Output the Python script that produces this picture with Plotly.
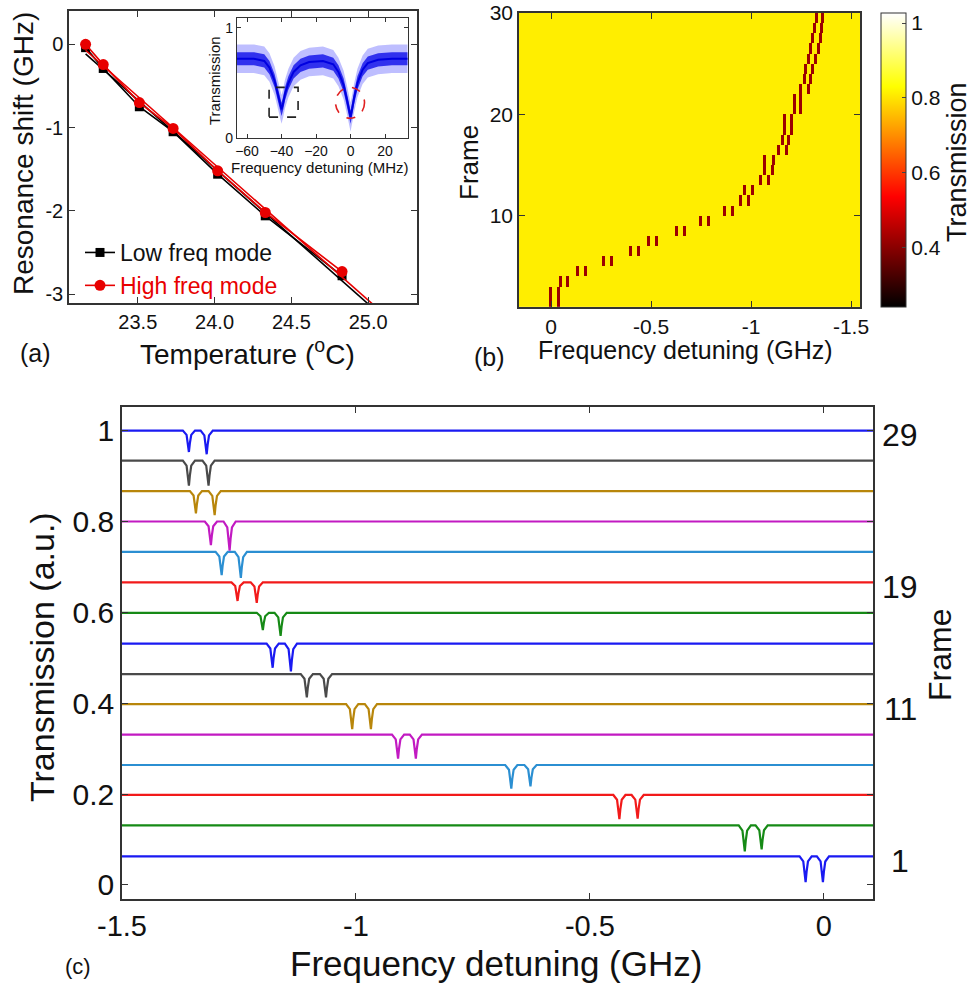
import numpy as np
import plotly.graph_objects as go

# ---------------- data: panel (a) ----------------
TEMP_C = [23.16, 23.275, 23.51, 23.73, 24.02, 24.33, 24.83]
SHIFT_LOW_GHZ = [-0.04, -0.29, -0.75, -1.05, -1.56, -2.06, -2.78]
SHIFT_HIGH_GHZ = [0.00, -0.244, -0.70, -1.01, -1.52, -2.02, -2.73]
SERIES_NAMES = ["Low freq mode", "High freq mode"]

# inset of panel (a): transmission vs detuning (MHz), centre of noisy trace
INSET_DET_MHZ = [-66, -56, -50, -47, -44, -42, -41, -40, -39, -38, -36, -33, -29, -24,
                 -16, -10, -7, -4, -2, -1, 0, 1, 2, 4, 7, 10, 16, 24, 33]
INSET_T_MID = [0.72, 0.72, 0.70, 0.64, 0.52, 0.40, 0.32, 0.26, 0.32, 0.40, 0.50, 0.60,
               0.66, 0.69, 0.70, 0.67, 0.60, 0.48, 0.34, 0.26, 0.19, 0.27, 0.36, 0.50,
               0.62, 0.68, 0.71, 0.72, 0.72]
INSET_NOISE_CORE = 0.06
INSET_NOISE_SPIKE = 0.13
INSET_BOX_MHZ = [-47.2, -30.4]
INSET_BOX_T = [0.19, 0.46]
INSET_CIRCLE_MHZ = [-8.7, 8.1]
INSET_CIRCLE_T = [0.18, 0.46]

# ---------------- data: panel (b) ----------------
HM_FRAMES = list(range(1, 31))
HM_DIP_A = [0.0, 0.0, -0.046, -0.134, -0.264, -0.40, -0.49, -0.63, -0.75, -0.87,
            -0.95, -0.97, -1.05, -1.07, -1.07, -1.14, -1.157, -1.17, -1.17, -1.217,
            -1.217, -1.25, -1.27, -1.275, -1.29, -1.30, -1.31, -1.32, -1.33, -1.33]
HM_DIP_B = [-0.038, -0.038, -0.083, -0.172, -0.301, -0.44, -0.53, -0.67, -0.79, -0.91,
            -0.99, -1.01, -1.09, -1.11, -1.115, -1.18, -1.19, -1.205, -1.205, -1.25,
            -1.25, -1.29, -1.30, -1.31, -1.325, -1.34, -1.35, -1.353, -1.36, -1.36]
HM_BASE_T = 0.81
HM_DIP_T = 0.42
HM_DIP_HALFWIDTH = 0.0075
HM_DET_START, HM_DET_STOP, HM_DET_STEP = 0.17, -1.56, -0.0025
CBAR_TICKS = [0.4, 0.6, 0.8, 1.0]
CBAR_TEXT = ["0.4", "0.6", "0.8", "1"]

# ---------------- data: panel (c) ----------------
C_FRAMES = [1, 3, 5, 7, 9, 11, 13, 15, 17, 19, 21, 23, 25, 27, 29]
C_BASELINE = [0.063, 0.131, 0.198, 0.264, 0.331, 0.398, 0.464, 0.531, 0.599, 0.666,
              0.733, 0.800, 0.867, 0.934, 1.000]
C_DIP1_GHZ = [-0.039, -0.169, -0.437, -0.668, -0.910, -1.008, -1.105, -1.178, -1.199,
              -1.253, -1.287, -1.310, -1.342, -1.357, -1.357]
C_DIP2_GHZ = [-0.002, -0.133, -0.398, -0.627, -0.872, -0.968, -1.064, -1.139, -1.161,
              -1.212, -1.246, -1.270, -1.302, -1.315, -1.319]
C_DEPTH1 = [0.057, 0.057, 0.053, 0.052, 0.053, 0.055, 0.051, 0.053, 0.038, 0.041,
            0.051, 0.052, 0.049, 0.055, 0.047]
C_DEPTH2 = [0.057, 0.053, 0.052, 0.047, 0.053, 0.055, 0.051, 0.061, 0.051, 0.045,
            0.057, 0.064, 0.053, 0.055, 0.052]
DIP_OFFSETS_GHZ = [-0.013, -0.005, -0.002, 0.0, 0.002, 0.005, 0.013]
DIP_PROFILE = [0.0, 0.2, 0.6, 1.0, 0.6, 0.2, 0.0]
FRAME_LABELS = [29, 19, 11, 1]

# ---------------- style ----------------
FONT = "Liberation Sans, Arial, sans-serif"
W, H = 974, 983
BLUE, GREEN, RED = "#1a1af2", "#168a16", "#f21a1a"
LBLUE, MAGENTA, BROWN, GRAY = "#2b8fd2", "#c21ac2", "#b8860b", "#4a4a4a"
C_COLORS = [BLUE, GREEN, RED, LBLUE, MAGENTA, BROWN, GRAY,
            BLUE, GREEN, RED, LBLUE, MAGENTA, BROWN, GRAY, BLUE]
AX_COLOR = "#333333"


def fx(p):
    return p / W


def fy(p):
    return 1 - p / H


fig = go.Figure()

# ---- panel (a): fits + points ----
A_XRANGE = [23.052, 25.318]
A_YRANGE = [-3.107, 0.40]
for ys, col, sym, size, name in [
    (SHIFT_LOW_GHZ, "#000000", "square", 9, SERIES_NAMES[0]),
    (SHIFT_HIGH_GHZ, "#e80000", "circle", 11,
     "<span style='color:#e80000'>" + SERIES_NAMES[1] + "</span>"),
]:
    k, c = np.polyfit(TEMP_C, ys, 1)
    xf = np.array([TEMP_C[0], A_XRANGE[1]])
    fig.add_trace(go.Scatter(x=xf, y=k * xf + c, mode="lines", xaxis="x", yaxis="y",
                             line=dict(color=col, width=1.6), showlegend=False,
                             hoverinfo="skip"))
    fig.add_trace(go.Scatter(x=TEMP_C, y=ys, mode="lines+markers", name=name,
                             xaxis="x", yaxis="y",
                             line=dict(color=col, width=1.6),
                             marker=dict(color=col, symbol=sym, size=size)))

# ---- inset ----
mid = np.array(INSET_T_MID)
for spread, fillcol in [(INSET_NOISE_SPIKE, "rgba(70,70,255,0.35)"),
                        (INSET_NOISE_CORE, "rgba(25,25,235,0.85)")]:
    fig.add_trace(go.Scatter(x=INSET_DET_MHZ, y=mid - spread, mode="lines",
                             line=dict(width=0, color=fillcol), xaxis="x2", yaxis="y2",
                             showlegend=False, hoverinfo="skip"))
    fig.add_trace(go.Scatter(x=INSET_DET_MHZ, y=mid + spread, mode="lines",
                             line=dict(width=0, color=fillcol), fill="tonexty",
                             fillcolor=fillcol, xaxis="x2", yaxis="y2",
                             showlegend=False, hoverinfo="skip"))
fig.add_trace(go.Scatter(x=INSET_DET_MHZ, y=INSET_T_MID, mode="lines",
                         line=dict(color="#0000e0", width=2), xaxis="x2", yaxis="y2",
                         showlegend=False))

# ---- panel (b): heatmap ----
det = np.arange(HM_DET_START, HM_DET_STOP, HM_DET_STEP)
z = np.full((len(HM_FRAMES), len(det)), HM_BASE_T)
for i, (da, db) in enumerate(zip(HM_DIP_A, HM_DIP_B)):
    for d in (da, db):
        z[i, np.abs(det - d) <= HM_DIP_HALFWIDTH] = HM_DIP_T
HOT = [[0.0, "#000000"], [0.375, "#ff0000"], [0.75, "#ffff00"], [1.0, "#ffffff"]]
fig.add_trace(go.Heatmap(
    x=det, y=[f + 0.5 for f in HM_FRAMES], z=z, xaxis="x3", yaxis="y3",
    colorscale=HOT, zmin=0.24, zmax=1.027, showscale=True,
    colorbar=dict(x=fx(881), xanchor="left", y=fy(13), yanchor="top",
                  len=294 / H, lenmode="fraction", thickness=25, xpad=0, ypad=0,
                  tickvals=CBAR_TICKS, ticktext=CBAR_TEXT, ticks="inside", ticklen=4,
                  outlinecolor=AX_COLOR, outlinewidth=1,
                  tickfont=dict(size=21, family=FONT, color="#111"))))

# ---- panel (c): stacked traces ----
C_XRANGE = [-1.5, 0.105]
C_YRANGE = [-0.031, 1.052]
for i, f in enumerate(C_FRAMES):
    b = C_BASELINE[i]
    xs = [C_XRANGE[0]] + [C_DIP1_GHZ[i] + o for o in DIP_OFFSETS_GHZ] \
        + [C_DIP2_GHZ[i] + o for o in DIP_OFFSETS_GHZ] + [C_XRANGE[1]]
    ys = [b] + [b - C_DEPTH1[i] * p for p in DIP_PROFILE] \
        + [b - C_DEPTH2[i] * p for p in DIP_PROFILE] + [b]
    fig.add_trace(go.Scatter(x=xs, y=ys, mode="lines", xaxis="x4", yaxis="y4",
                             line=dict(color=C_COLORS[i], width=2.2),
                             name="Frame %d" % f, showlegend=False))

# ---------------- layout ----------------
def ax(**kw):
    base = dict(showline=True, linecolor=AX_COLOR, linewidth=1.5, mirror="ticks",
                ticks="inside", ticklen=6, tickcolor=AX_COLOR, showgrid=False,
                zeroline=False, tickfont=dict(family=FONT, color="#111"))
    base.update(kw)
    return base


shapes = [
    dict(type="rect", xref="x2", yref="y2", x0=INSET_BOX_MHZ[0], x1=INSET_BOX_MHZ[1],
         y0=INSET_BOX_T[0], y1=INSET_BOX_T[1],
         line=dict(color="#222", width=1.6, dash="dash")),
    dict(type="circle", xref="x2", yref="y2", x0=INSET_CIRCLE_MHZ[0],
         x1=INSET_CIRCLE_MHZ[1], y0=INSET_CIRCLE_T[0], y1=INSET_CIRCLE_T[1],
         line=dict(color="#e02020", width=1.6, dash="dash")),
]


def ann(text, x, y, size, angle=0, **kw):
    d = dict(text=text, x=x, y=y, xref="paper", yref="paper", showarrow=False,
             xanchor="center", yanchor="middle", textangle=angle,
             font=dict(family=FONT, size=size, color="#111"))
    d.update(kw)
    return d


annotations = [
    ann("Resonance shift (GHz)", fx(23), fy(154), 28, -90),
    ann("Temperature (<sup>o</sup>C)", fx(247), fy(352), 28),
    ann("(a)", fx(35), fy(353), 25),
    ann("Transmission", fx(214), fy(81), 15, -90),
    ann("Frequency detuning (MHz)", fx(320), fy(168), 15),
    ann("Frame", fx(469), fy(163), 26, -90),
    ann("Frequency detuning (GHz)", fx(685), fy(350), 25),
    ann("(b)", fx(489), fy(357), 25),
    ann("Transmission", fx(957), fy(162), 27, -90),
    ann("Transmission (a.u.)", fx(42), fy(657), 34, -90),
    ann("Frequency detuning (GHz)", fx(496), fy(963), 35),
    ann("(c)", fx(78), fy(966), 22),
    ann("Frame", fx(940), fy(655), 32, -90),
]
for lab in FRAME_LABELS:
    idx = C_FRAMES.index(lab)
    annotations.append(dict(text=str(lab), x=fx(900), y=C_BASELINE[idx] - 0.01,
                            xref="paper", yref="y4", showarrow=False,
                            xanchor="center", yanchor="middle",
                            font=dict(family=FONT, size=32, color="#111")))

fig.update_layout(
    width=W, height=H, margin=dict(l=0, r=0, t=0, b=0, autoexpand=False),
    paper_bgcolor="white", plot_bgcolor="white",
    font=dict(family=FONT, color="#111"),
    xaxis=ax(domain=[fx(69), fx(417)], range=A_XRANGE, anchor="y",
             tickvals=[23.5, 24.0, 24.5, 25.0], ticktext=["23.5", "24.0", "24.5", "25.0"],
             tickfont=dict(size=20, family=FONT, color="#111")),
    yaxis=ax(domain=[fy(303), fy(11)], range=A_YRANGE, anchor="x",
             tickvals=[0, -1, -2, -3], ticktext=["0", "-1", "-2", "-3"],
             tickfont=dict(size=20, family=FONT, color="#111")),
    xaxis2=ax(domain=[fx(237), fx(408)], range=[-65.8, 33.3], anchor="y2",
              tickvals=[-60, -40, -20, 0, 20], ticklen=4, linewidth=1.2,
              tickfont=dict(size=14, family=FONT, color="#111")),
    yaxis2=ax(domain=[fy(138), fy(18)], range=[0, 1.09], anchor="x2",
              tickvals=[0, 1], ticklen=4, linewidth=1.2,
              tickfont=dict(size=14, family=FONT, color="#111")),
    xaxis3=ax(domain=[fx(519), fx(860)], range=[0.16, -1.545], anchor="y3",
              tickvals=[0, -0.5, -1, -1.5], ticktext=["0", "-0.5", "-1", "-1.5"],
              tickfont=dict(size=21, family=FONT, color="#111")),
    yaxis3=ax(domain=[fy(307), fy(13)], range=[1, 30], anchor="x3",
              tickvals=[10, 20, 30], tickfont=dict(size=21, family=FONT, color="#111")),
    xaxis4=ax(domain=[fx(122), fx(873)], range=C_XRANGE, anchor="y4",
              tickvals=[-1.5, -1, -0.5, 0], ticktext=["-1.5", "-1", "-0.5", "0"],
              tickfont=dict(size=29, family=FONT, color="#111")),
    yaxis4=ax(domain=[fy(899), fy(407)], range=C_YRANGE, anchor="x4",
              tickvals=[0, 0.2, 0.4, 0.6, 0.8, 1.0],
              ticktext=["0", "0.2", "0.4", "0.6", "0.8", "1"],
              tickfont=dict(size=30, family=FONT, color="#111")),
    legend=dict(x=fx(80), y=fy(231), xanchor="left", yanchor="top",
                traceorder="normal",
                bgcolor="rgba(0,0,0,0)", font=dict(size=23, family=FONT, color="#111"),
                itemwidth=30, tracegroupgap=0),
    shapes=shapes, annotations=annotations,
)

fig.write_html("out.html", config={"displayModeBar": False},
               post_script="document.body.style.margin='0px';"
                           "document.body.style.padding='0px';"
                           "document.body.style.overflow='hidden';")
